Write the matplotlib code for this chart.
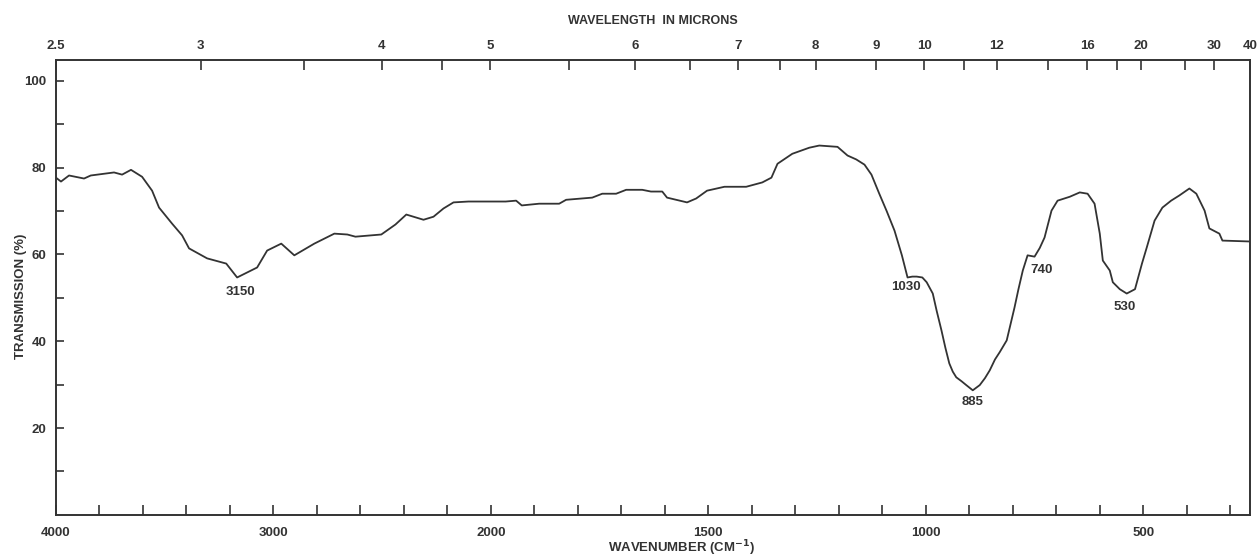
import numpy as np
import matplotlib
matplotlib.use("Agg")
import matplotlib.pyplot as plt

plt.rcParams['font.family'] = ['Liberation Sans', 'DejaVu Sans']
plt.rcParams['font.weight'] = 'bold'
plt.rcParams['axes.labelweight'] = 'bold'

# [1] spectrum (wavenumber cm-1, transmission %)
wavenumber = [4000, 3977, 3940, 3871, 3840, 3733, 3696, 3655, 3604, 3558, 3526, 3466,
              3420, 3388, 3305, 3217, 3167, 3075, 3029, 2964, 2904, 2812, 2720, 2660,
              2623, 2504, 2439, 2389, 2310, 2264, 2218, 2172, 2103, 2011, 1966, 1942,
              1929, 1889, 1843, 1827, 1767, 1744, 1712, 1689, 1652, 1632, 1606, 1595,
              1549, 1528, 1503, 1463, 1413, 1376, 1355, 1341, 1307, 1268, 1245, 1203,
              1180, 1160, 1141, 1125, 1107, 1090, 1072, 1055, 1042, 1031, 1021, 1008,
              998, 984, 975, 964, 955, 946, 938, 930, 918, 907, 892, 876,
              864, 853, 841, 830, 814, 805, 796, 787, 777, 766, 750, 738,
              727, 711, 697, 669, 646, 628, 612, 600, 593, 577, 570, 554,
              538, 519, 503, 492, 474, 456, 436, 417, 394, 378, 359, 348,
              325, 318, 257]
transmission = [77.7, 76.8, 78.2, 77.5, 78.2, 78.9, 78.4, 79.5, 77.9, 74.7, 70.8, 67.1,
                64.4, 61.4, 59.1, 57.9, 54.7, 57.0, 60.9, 62.5, 59.8, 62.5, 64.8, 64.6,
                64.1, 64.6, 66.9, 69.2, 68.0, 68.7, 70.6, 72.0, 72.2, 72.2, 72.2, 72.4,
                71.3, 71.7, 71.7, 72.6, 73.1, 74.0, 74.0, 74.9, 74.9, 74.5, 74.5, 73.1,
                72.0, 72.9, 74.7, 75.6, 75.6, 76.6, 77.7, 80.9, 83.2, 84.6, 85.1, 84.8,
                82.8, 81.9, 80.7, 78.4, 74.0, 70.0, 65.5, 59.8, 54.7, 54.9, 54.9, 54.7,
                53.6, 51.0, 47.0, 42.5, 38.5, 34.9, 33.0, 31.7, 30.8, 29.9, 28.7, 29.9,
                31.5, 33.3, 35.8, 37.5, 40.2, 44.0, 47.8, 52.0, 56.3, 59.8, 59.5, 61.5,
                63.9, 70.1, 72.4, 73.3, 74.3, 74.0, 71.7, 64.8, 58.6, 56.3, 53.6, 52.0,
                51.0, 52.0, 57.9, 61.6, 67.8, 70.8, 72.4, 73.6, 75.2, 74.0, 70.1, 66.0,
                64.8, 63.2, 63.0]

peak_labels = ['3150', '1030', '885', '740', '530']
peak_pos = [(3150, 51.3), (1045, 52.4), (892, 26.0), (734, 56.5), (543, 47.8)]

bottom_labels = [4000, 3000, 2000, 1500, 1000, 500]
microns_labeled = [2.5, 3, 4, 5, 6, 7, 8, 9, 10, 12, 16, 20, 30, 40]
microns_minor = [3.5, 4.5, 5.5, 6.5, 7.5, 11, 14, 18, 25]


# [2] chart paper: 4000-2000 at half the scale of 2000-250
def fwd(w):
    w = np.asarray(w, dtype=float)
    return np.where(w >= 2000, w - 2000, 2 * (w - 2000))


def inv(u):
    u = np.asarray(u, dtype=float)
    return np.where(u >= 0, u + 2000, u / 2 + 2000)


fig = plt.figure(figsize=(12.58, 5.56), dpi=100)
ax = fig.add_axes([0.0445, 0.074, 0.949, 0.818])
ax.set_xscale('function', functions=(fwd, inv))
ax.plot(wavenumber, transmission, color='#333333', lw=1.3)
ax.set_xlim(4000, 255)
ax.set_ylim(0, 104.8)

bottom_ticks = list(range(4000, 2000, -200)) + list(range(2000, 250, -100))
ax.set_xticks(bottom_ticks)
ax.set_xticklabels([str(t) if t in bottom_labels else '' for t in bottom_ticks])
ax.set_yticks(range(10, 101, 10))
ax.set_yticklabels([str(t) if t % 20 == 0 else '' for t in range(10, 101, 10)])
ax.tick_params(axis='x', direction='in', length=7, width=1.2, pad=9,
               labelsize=9.5, colors='#333333')
ax.tick_params(axis='y', direction='in', length=6, width=1.2, pad=7,
               labelsize=9.5, colors='#333333')
for s in ax.spines.values():
    s.set_linewidth(1.4)
    s.set_color('#333333')

ax.set_xlabel(r'WAVENUMBER (CM$^{\mathbf{-1}}$)', fontsize=9.5, color='#333333')
ax.xaxis.set_label_coords(0.524, -0.052)
ax.set_ylabel('TRANSMISSION (%)', fontsize=9.5, color='#333333')
ax.yaxis.set_label_coords(-0.0245, 0.48)

# [3] top axis in microns
ax2 = ax.twiny()
ax2.set_xscale('function', functions=(fwd, inv))
ax2.set_xlim(ax.get_xlim())
top_um = sorted(microns_labeled + microns_minor)
ax2.set_xticks([10000 / m for m in top_um])
ax2.set_xticklabels([('%g' % m) if m in microns_labeled else '' for m in top_um])
ax2.tick_params(axis='x', direction='in', length=7, width=1.2, pad=6,
                labelsize=9.5, colors='#333333')
ax2.set_xlabel('WAVELENGTH  IN MICRONS', fontsize=9, labelpad=11, color='#333333')
for s in ax2.spines.values():
    s.set_visible(False)

# [4] peak labels
for lab, (w, t) in zip(peak_labels, peak_pos):
    ax.text(w, t, lab, ha='center', va='center', fontsize=9.5, color='#333333')

plt.savefig('out.png', dpi=100)
